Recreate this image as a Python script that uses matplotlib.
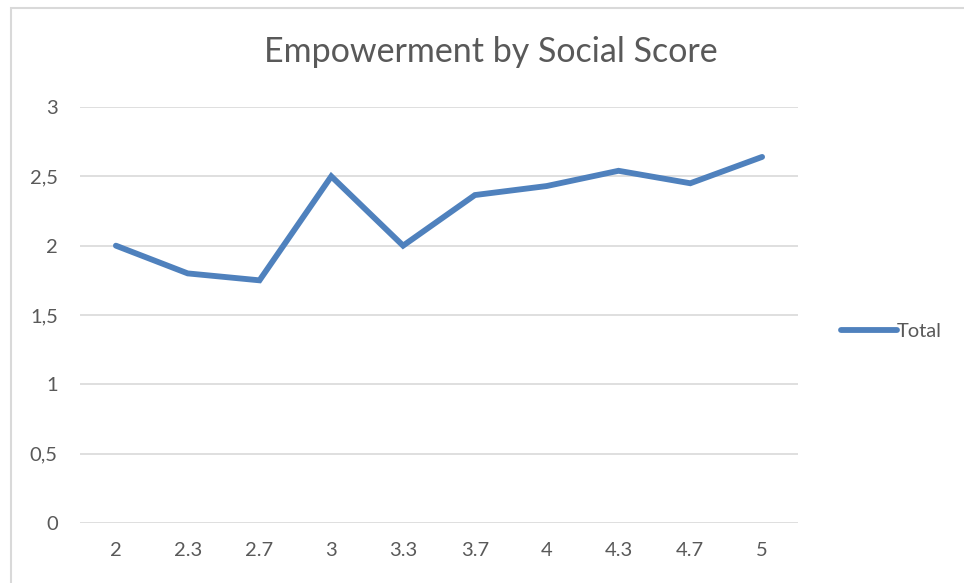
import matplotlib.pyplot as plt
from matplotlib.patches import Rectangle

# Social score categories and mean empowerment
categories = ["2", "2.3", "2.7", "3", "3.3", "3.7", "4", "4.3", "4.7", "5"]
totals = [2.0, 1.80, 1.75, 2.5, 2.0, 2.365, 2.43, 2.54, 2.45, 2.64]
y_ticks = [0, 0.5, 1, 1.5, 2, 2.5, 3]
y_labels = ["0", "0,5", "1", "1,5", "2", "2,5", "3"]

plt.rcParams['font.family'] = ['Lato', 'DejaVu Sans']

fig = plt.figure(figsize=(9.64, 5.83), dpi=100)
W, H = 964, 583

# chart area border (cropped at right and bottom)
fig.patches.append(Rectangle((11 / W, -0.1), 1.2, 1 - 8 / H + 0.1,
                             transform=fig.transFigure, fill=False,
                             edgecolor="#d9d9d9", linewidth=1.5))

ax = fig.add_axes([80 / W, (H - 523) / H, (798 - 80) / W, (523 - 107) / H])
x = range(len(categories))
ax.plot(x, totals, color="#4f81bd", linewidth=4.2, solid_capstyle="round",
        solid_joinstyle="miter", label="Total")

ax.set_xlim(-0.5, len(categories) - 0.5)
ax.set_ylim(0, 3)
ax.set_xticks(list(x))
ax.set_xticklabels(categories)
ax.set_yticks(y_ticks)
ax.set_yticklabels(y_labels)
ax.tick_params(length=0, labelsize=14.5, colors="#595959")
ax.tick_params(axis="x", pad=14)
ax.tick_params(axis="y", pad=16)
ax.grid(axis="y", color="#d9d9d9", linewidth=1.2)
ax.set_axisbelow(True)
for s in ax.spines.values():
    s.set_visible(False)

fig.text(491 / W, 1 - 52 / H, "Empowerment by Social Score", ha="center",
         va="center", fontsize=24.5, color="#595959")

leg = ax.legend(loc="center left", bbox_to_anchor=(1.035, 0.46), frameon=False,
                fontsize=14.5, handlelength=2.75, handletextpad=0.0)
for t in leg.get_texts():
    t.set_color("#595959")

fig.savefig("out.png", dpi=100)
